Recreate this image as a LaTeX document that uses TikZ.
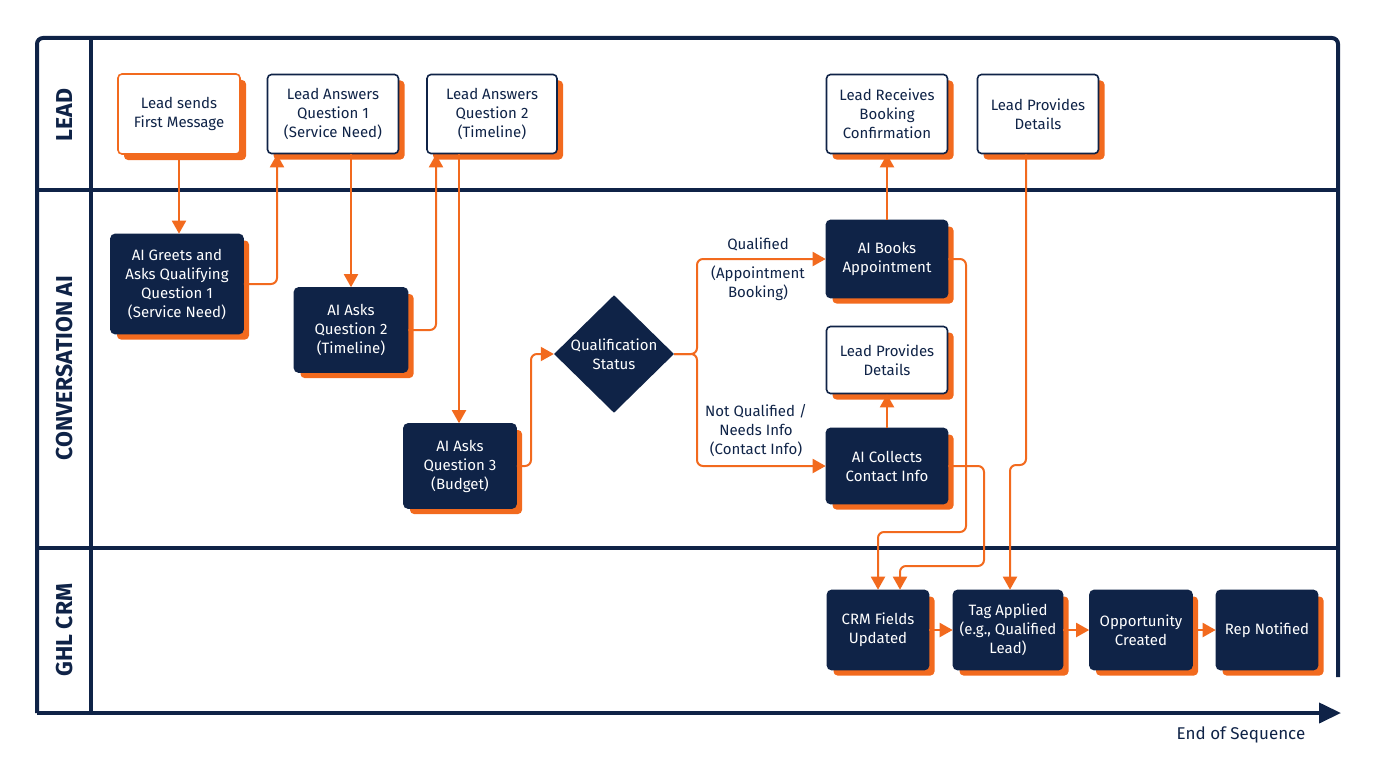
\documentclass[tikz,border=0pt]{standalone}
\usepackage{fontspec}
\setmainfont{Fira Sans}
\usetikzlibrary{arrows.meta,shapes.geometric}
\definecolor{navy}{HTML}{0F2347}
\definecolor{org}{HTML}{F26A1E}
\begin{document}
\begin{tikzpicture}[x=1pt,y=-1pt,
  shad/.style={preaction={fill=org,transform canvas={shift={(6pt,-6pt)}}}},
  box/.style={shad,rectangle,rounded corners=4pt,align=center,inner sep=2pt,
    font=\fontsize{15}{19}\selectfont,line width=1.6pt},
  dark/.style={box,fill=navy,draw=navy,text=white},
  lite/.style={box,fill=white,draw=navy,text=navy},
  lorg/.style={box,fill=white,draw=org,text=navy},
  conn/.style={draw=org,line width=2pt,rounded corners=6pt,-{Triangle[width=14pt,length=13pt]}},
  lane/.style={font=\bfseries\fontsize{23}{25}\selectfont,text=navy,rotate=90},
  lab/.style={font=\fontsize{15}{19}\selectfont,text=navy,align=center}]
\useasboundingbox (0,0) rectangle (1376,768);
% frame
\draw[navy,line width=4pt,rounded corners=6pt] (1338,677) -- (1338,38) -- (37,38) -- (37,713);
\draw[navy,line width=4pt,-{Triangle[width=20pt,length=22pt]}] (37,713) -- (1341,713);
\draw[navy,line width=4pt] (91,38) -- (91,713);
\draw[navy,line width=4pt] (37,190) -- (1338,190);
\draw[navy,line width=4pt] (37,548) -- (1338,548);
\node[lane] (l1) at (65,115) {LEAD};
\node[lane] (l2) at (65,368) {CONVERSATION AI};
\node[lane] (l3) at (65,630) {GHL CRM};
\node[lab,font=\fontsize{17}{20}\selectfont] (end) at (1241,735) {End of Sequence};
% nodes
\node[lorg,minimum width=122,minimum height=80] (lsm) at (179,114) {Lead sends\\First Message};
\node[lite,minimum width=131,minimum height=79] (la1) at (333,114) {Lead Answers\\Question 1\\(Service Need)};
\node[lite,minimum width=130,minimum height=79] (la2) at (492,114) {Lead Answers\\Question 2\\(Timeline)};
\node[lite,minimum width=121,minimum height=79] (lrbc) at (887,114) {Lead Receives\\Booking\\Confirmation};
\node[lite,minimum width=121,minimum height=79] (lpd1) at (1038,114) {Lead Provides\\Details};
\node[dark,minimum width=132,minimum height=99] (g1) at (177,284) {AI Greets and\\Asks Qualifying\\Question 1\\(Service Need)};
\node[dark,minimum width=113,minimum height=84] (q2) at (351,330) {AI Asks\\Question 2\\(Timeline)};
\node[dark,minimum width=112,minimum height=84] (q3) at (460,466) {AI Asks\\Question 3\\(Budget)};
\node[diamond,fill=navy,minimum width=120,minimum height=110,inner sep=0pt,text=white,align=center,font=\fontsize{15}{19}\selectfont] (dia) at (614,354) {Qualification\\Status};
\node[dark,minimum width=121,minimum height=77] (books) at (887,259) {AI Books\\Appointment};
\node[lite,minimum width=121,minimum height=67] (lpd2) at (887,360) {Lead Provides\\Details};
\node[dark,minimum width=121,minimum height=75] (coll) at (887,466) {AI Collects\\Contact Info};
\node[dark,minimum width=101,minimum height=79] (crm) at (878,630) {CRM Fields\\Updated};
\node[dark,minimum width=109,minimum height=79] (tag) at (1008,630) {Tag Applied\\(e.g., Qualified\\Lead)};
\node[dark,minimum width=102,minimum height=79] (opp) at (1141,630) {Opportunity\\Created};
\node[dark,minimum width=101,minimum height=79] (rep) at (1267,630) {Rep Notified};
% connectors
\draw[conn] (lsm.south) -- (g1.north -| lsm.south);
\draw[conn] (g1.east) -- (277,284) -- (la1.south -| 277,0);
\draw[conn] (la1.south -| 351,0) -- (q2.north);
\draw[conn] (q2.east) -- (436,330) -- (la2.south -| 436,0);
\draw[conn] (la2.south -| 459,0) -- (q3.north -| 459,0);
\draw[conn] (q3.east) -- (531,466) -- (531,354) -- (dia.west);
\draw[conn] (dia.east) -- (697,354) -- (697,259) -- (books.west);
\draw[conn] (dia.east) -- (697,354) -- (697,466) -- (coll.west);
\node[lab] (tq) at (758,244) {Qualified};
\node[lab] (tab) at (758,283) {(Appointment\\Booking)};
\node[lab] (tnq) at (756,431) {Not Qualified /\\Needs Info\\(Contact Info)};
\draw[conn] (books.north) -- (lrbc.south);
\draw[conn] (coll.north) -- (lpd2.south);
\draw[conn] (books.east) -- (966,259) -- (966,532) -- (878,532) -- (crm.north);
\draw[conn] (coll.east) -- (984,466) -- (984,566) -- (900,566) -- (crm.north -| 900,0);
\draw[conn] (lpd1.south -| 1026,0) -- (1026,465) -- (1010,465) -- (tag.north -| 1010,0);
\draw[conn] (crm) -- (tag);
\draw[conn] (tag) -- (opp);
\draw[conn] (opp) -- (rep);
\end{tikzpicture}
\end{document}
